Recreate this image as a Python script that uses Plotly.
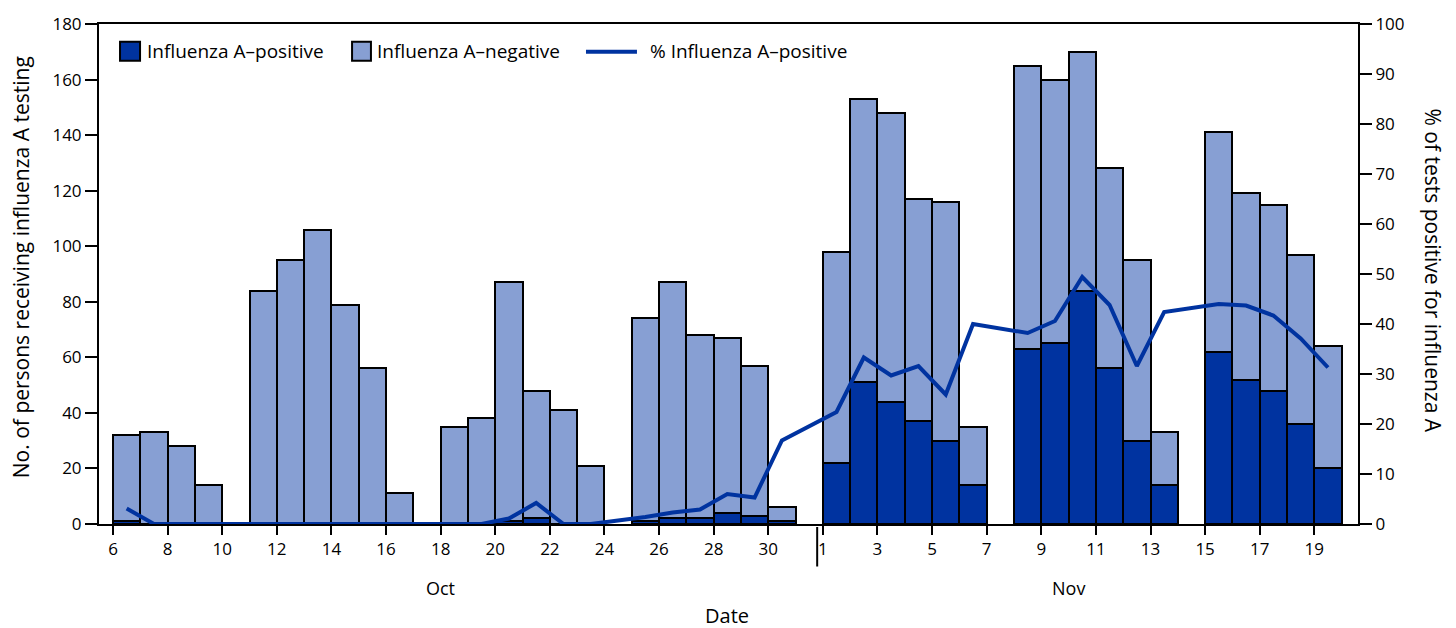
import plotly.graph_objects as go
import pandas as pd

# ---- data ----
dates = [
    "2022-10-06", "2022-10-07", "2022-10-08", "2022-10-09",
    "2022-10-11", "2022-10-12", "2022-10-13", "2022-10-14", "2022-10-15", "2022-10-16",
    "2022-10-18", "2022-10-19", "2022-10-20", "2022-10-21", "2022-10-22", "2022-10-23",
    "2022-10-25", "2022-10-26", "2022-10-27", "2022-10-28", "2022-10-29", "2022-10-30",
    "2022-11-01", "2022-11-02", "2022-11-03", "2022-11-04", "2022-11-05", "2022-11-06",
    "2022-11-08", "2022-11-09", "2022-11-10", "2022-11-11", "2022-11-12", "2022-11-13",
    "2022-11-15", "2022-11-16", "2022-11-17", "2022-11-18", "2022-11-19",
]
positive = [
    1, 0, 0, 0,
    0, 0, 0, 0, 0, 0,
    0, 0, 1, 2, 0, 0,
    1, 2, 2, 4, 3, 1,
    22, 51, 44, 37, 30, 14,
    63, 65, 84, 56, 30, 14,
    62, 52, 48, 36, 20,
]
negative = [
    31, 33, 28, 14,
    84, 95, 106, 79, 56, 11,
    35, 38, 86, 46, 41, 21,
    73, 85, 66, 63, 54, 5,
    76, 102, 104, 80, 86, 21,
    102, 95, 86, 72, 65, 19,
    79, 67, 67, 61, 44,
]
pct_positive = [
    3.1, 0, 0, 0,
    0, 0, 0, 0, 0, 0,
    0, 0, 1.1, 4.2, 0, 0,
    1.4, 2.3, 2.9, 6.0, 5.3, 16.7,
    22.4, 33.3, 29.7, 31.6, 25.9, 40.0,
    38.2, 40.6, 49.4, 43.8, 31.6, 42.4,
    44.0, 43.7, 41.7, 37.1, 31.3,
]
tick_dates = [
    "2022-10-06", "2022-10-08", "2022-10-10", "2022-10-12", "2022-10-14", "2022-10-16",
    "2022-10-18", "2022-10-20", "2022-10-22", "2022-10-24", "2022-10-26", "2022-10-28",
    "2022-10-30", "2022-11-01", "2022-11-03", "2022-11-05", "2022-11-07", "2022-11-09",
    "2022-11-11", "2022-11-13", "2022-11-15", "2022-11-17", "2022-11-19",
]
tick_labels = ["6", "8", "10", "12", "14", "16", "18", "20", "22", "24", "26", "28",
               "30", "1", "3", "5", "7", "9", "11", "13", "15", "17", "19"]
month_labels = ["Oct", "Nov"]
month_label_dates = ["2022-10-18", "2022-11-10"]

DARK = "#0033a0"
LIGHT = "#879fd3"
FONT = "Open Sans"

day = pd.Timedelta(days=1)
x_mid = pd.to_datetime(dates) + pd.Timedelta(hours=12)
start = pd.Timestamp("2022-10-06")
x_range = [start - 0.513 * day, start + 45.6 * day]

fig = go.Figure()
fig.add_trace(go.Bar(
    x=x_mid, y=positive, name="Influenza A\u2013positive",
    width=day.total_seconds() * 1000,
    marker=dict(color=DARK, line=dict(color="black", width=2)),
))
fig.add_trace(go.Bar(
    x=x_mid, y=negative, name="Influenza A\u2013negative",
    width=day.total_seconds() * 1000,
    marker=dict(color=LIGHT, line=dict(color="black", width=2)),
))
fig.add_trace(go.Scatter(
    x=x_mid, y=pct_positive, name="% Influenza A\u2013positive", yaxis="y2",
    mode="lines", line=dict(color=DARK, width=4),
))

axis_common = dict(showline=True, linecolor="black", linewidth=2, ticks="outside",
                   tickcolor="black", tickwidth=2, showgrid=False, zeroline=False,
                   tickfont=dict(family=FONT, size=17, color="black"))

fig.update_layout(
    width=1456, height=628,
    margin=dict(l=99, r=98, t=19, b=104),
    plot_bgcolor="white", paper_bgcolor="white",
    barmode="stack", bargap=0, showlegend=False,
    font=dict(family=FONT, size=17, color="black"),
    xaxis=dict(type="date", range=x_range, tickvals=pd.to_datetime(tick_dates),
               ticktext=tick_labels, ticklen=9, mirror=True, **axis_common),
    yaxis=dict(range=[0, 180], tickvals=list(range(0, 181, 20)), ticklen=12,
               **axis_common),
    yaxis2=dict(range=[0, 100], tickvals=list(range(0, 101, 10)), ticklen=12,
                overlaying="y", side="right", **axis_common),
)

# separator between months
fig.add_shape(type="line", xref="x", yref="paper",
              x0=pd.Timestamp("2022-10-31 19:00"), x1=pd.Timestamp("2022-10-31 19:00"),
              y0=-0.006, y1=-0.085, line=dict(color="black", width=2))

annotations = []
for lab, d in zip(month_labels, month_label_dates):
    annotations.append(dict(x=pd.Timestamp(d), y=-0.128, xref="x", yref="paper",
                            text=lab, showarrow=False, font=dict(size=18),
                            xanchor="center", yanchor="middle"))
annotations += [
    dict(x=0.4988, y=-0.182, xref="paper", yref="paper", text="Date", showarrow=False,
         font=dict(size=20), xanchor="center", yanchor="middle"),
    dict(x=-0.0622, y=0.513, xref="paper", yref="paper",
         text="No. of persons receiving influenza A testing", showarrow=False,
         textangle=-90, font=dict(size=21), xanchor="center", yanchor="middle"),
    dict(x=1.0596, y=0.507, xref="paper", yref="paper",
         text="% of tests positive for influenza A", showarrow=False,
         textangle=90, font=dict(size=21), xanchor="center", yanchor="middle"),
]

# manual legend
legend_items = [
    ("rect", DARK, 0.0167, 0.0326, 0.0366, "Influenza A\u2013positive"),
    ("rect", LIGHT, 0.2010, 0.2160, 0.2192, "Influenza A\u2013negative"),
    ("line", DARK, 0.3868, 0.4273, 0.4361, "% Influenza A\u2013positive"),
]
for kind, col, x0, x1, xt, label in legend_items:
    if kind == "rect":
        fig.add_shape(type="rect", xref="paper", yref="paper", x0=x0, x1=x1,
                      y0=0.9267, y1=0.9644, fillcolor=col,
                      line=dict(color="black", width=2))
    else:
        fig.add_shape(type="line", xref="paper", yref="paper", x0=x0, x1=x1,
                      y0=0.9446, y1=0.9446, line=dict(color=col, width=4))
    annotations.append(dict(x=xt, y=0.9455, xref="paper", yref="paper", text=label,
                            showarrow=False, xanchor="left", yanchor="middle",
                            font=dict(size=19)))

fig.update_layout(annotations=annotations)
fig.write_html("out.html", config={"displayModeBar": False},
               post_script="document.body.style.margin='0';document.body.style.overflow='hidden';")
